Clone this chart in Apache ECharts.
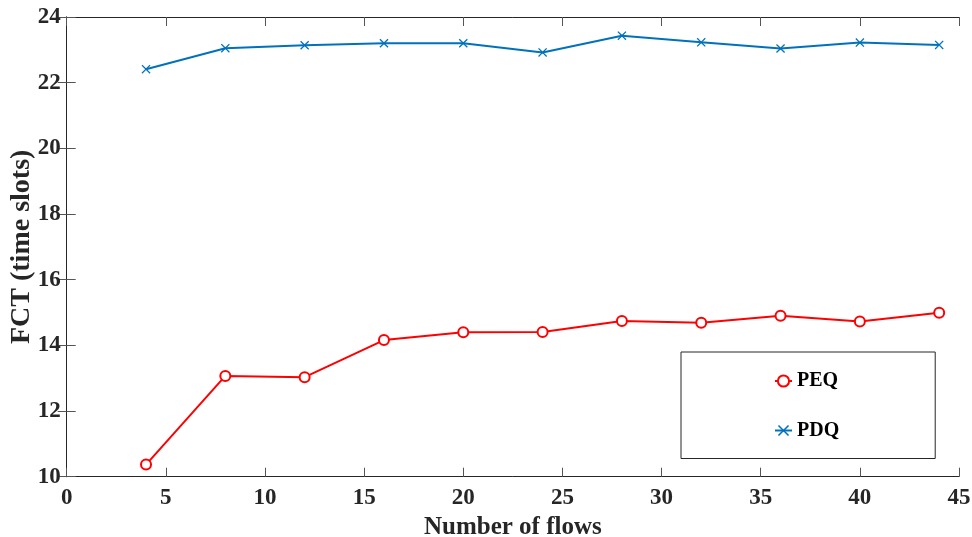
<!DOCTYPE html>
<html>
<head>
<meta charset="utf-8">
<script src="https://cdn.jsdelivr.net/npm/echarts@6/dist/echarts.min.js"></script>
<style>
  html, body { margin: 0; padding: 0; background: #fff; }
  #chart { width: 972px; height: 537px; }
</style>
</head>
<body>
<div id="chart"></div>
<script>
// Number of flows on the x axis
const flows = [4, 8, 12, 16, 20, 24, 28, 32, 36, 40, 44];
// Flow completion time (time slots) per scheme
const peq = [10.37, 13.07, 13.03, 14.16, 14.40, 14.41, 14.74, 14.69, 14.90, 14.73, 14.99];
const pdq = [22.41, 23.05, 23.14, 23.20, 23.20, 22.92, 23.43, 23.23, 23.04, 23.22, 23.15];
const seriesNames = ['PEQ', 'PDQ'];
const xTitle = 'Number of flows';
const yTitle = 'FCT (time slots)';

const FONT = '"Liberation Serif", "Times New Roman", serif';
const INK = '#262626';
const crossSymbol = 'path://M0,1 L1,0 L5,4 L9,0 L10,1 L6,5 L10,9 L9,10 L5,6 L1,10 L0,9 L4,5 Z';

const pairs = ys => flows.map((x, i) => [x, ys[i]]);

const baseAxis = {
  axisLine: { show: true, lineStyle: { color: INK, width: 1 } },
  axisTick: { show: true, inside: true, length: 9, lineStyle: { color: '#555', width: 1 } },
  splitLine: { show: false }
};

const chart = echarts.init(document.getElementById('chart'), null, { renderer: 'canvas' });
chart.setOption({
  animation: false,
  backgroundColor: '#ffffff',
  grid: {
    left: 66.7, right: 13, top: 17, bottom: 60.3,
    containLabel: false, outerBoundsMode: 'none'
  },
  xAxis: [
    Object.assign({}, baseAxis, {
      type: 'value', min: 0, max: 45, interval: 5, position: 'bottom',
      name: xTitle, nameLocation: 'middle', nameGap: 35,
      nameTextStyle: { fontFamily: FONT, fontWeight: 'bold', fontSize: 25, color: INK },
      axisLabel: { fontFamily: FONT, fontWeight: 'bold', fontSize: 23, color: INK, margin: 10 }
    }),
    Object.assign({}, baseAxis, {
      type: 'value', min: 0, max: 45, interval: 5, position: 'top',
      axisLabel: { show: false }
    })
  ],
  yAxis: [
    Object.assign({}, baseAxis, {
      type: 'value', min: 10, max: 24, interval: 2, position: 'left',
      name: yTitle, nameLocation: 'middle', nameGap: 31, nameRotate: 90,
      nameMoveOverlap: false,
      nameTextStyle: { fontFamily: FONT, fontWeight: 'bold', fontSize: 28, color: INK },
      axisLabel: { fontFamily: FONT, fontWeight: 'bold', fontSize: 23, color: INK, margin: 6 }
    }),
    Object.assign({}, baseAxis, {
      type: 'value', min: 10, max: 24, interval: 2, position: 'right',
      axisLabel: { show: false }
    })
  ],
  legend: {
    orient: 'vertical',
    left: 681, top: 352,
    padding: [19, 96, 18, 93],
    itemGap: 29.5,
    itemWidth: 17, itemHeight: 14,
    borderColor: INK, borderWidth: 1, borderRadius: 0,
    backgroundColor: '#fff',
    textStyle: { fontFamily: FONT, fontWeight: 'bold', fontSize: 20, color: '#000' },
    data: seriesNames
  },
  series: [
    {
      name: seriesNames[0], type: 'line', data: pairs(peq),
      symbol: 'emptyCircle', symbolSize: 10,
      lineStyle: { color: '#ff0000', width: 2 },
      itemStyle: { color: '#ff0000', borderColor: '#ff0000', borderWidth: 1.8 },
      z: 3
    },
    {
      name: seriesNames[1], type: 'line', data: pairs(pdq),
      symbol: crossSymbol, symbolSize: 9,
      lineStyle: { color: '#0072bd', width: 2 },
      itemStyle: { color: '#0072bd' },
      z: 3
    }
  ]
});
</script>
</body>
</html>
